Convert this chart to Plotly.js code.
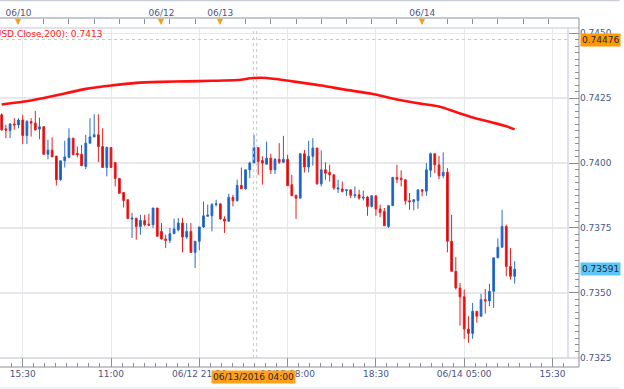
<!DOCTYPE html>
<html>
<head>
<meta charset="utf-8">
<script src="https://cdn.plot.ly/plotly-3.0.1.min.js"></script>
<style>html,body{margin:0;padding:0;background:#fff;}#chart{width:624px;height:389px;}</style>
</head>
<body>
<div id="chart"></div>
<script>
// 30-minute AUD/USD candles, first visible bar index = -4 (06/10 00:00 = index 0)
const firstBar = -4;
const open = [0.74186,0.74132,0.74126,0.74151,0.74147,0.74166,0.74106,0.74160,0.74154,0.74131,
0.74140,0.74034,0.74050,0.74027,0.73936,0.74009,0.74022,0.74096,0.74038,0.74034,
0.73987,0.74077,0.74101,0.74109,0.74064,0.73983,0.74060,0.74002,0.73941,0.73887,
0.73859,0.73784,0.73788,0.73756,0.73779,0.73765,0.73763,0.73827,0.73737,0.73708,
0.73702,0.73728,0.73743,0.73769,0.73715,0.73737,0.73656,0.73699,0.73754,0.73795,
0.73797,0.73840,0.73843,0.73785,0.73776,0.73868,0.73855,0.73914,0.73901,0.73974,
0.74000,0.74060,0.74010,0.73996,0.74019,0.73974,0.74015,0.74003,0.74015,0.73917,
0.73876,0.73865,0.74036,0.73985,0.74026,0.74058,0.73920,0.73974,0.73964,0.73955,
0.73900,0.73900,0.73894,0.73897,0.73874,0.73878,0.73865,0.73869,0.73833,0.73874,
0.73823,0.73814,0.73756,0.73836,0.73945,0.73942,0.73936,0.73855,0.73851,0.73856,
0.73897,0.73892,0.73972,0.74036,0.73993,0.73951,0.73965,0.73699,0.73583,0.73519,
0.73485,0.73361,0.73344,0.73429,0.73410,0.73474,0.73469,0.73506,0.73635,0.73676,
0.73756,0.73602,0.73564];
const high = [0.74192,0.74147,0.74154,0.74173,0.74173,0.74186,0.74166,0.74173,0.74201,0.74175,
0.74142,0.74090,0.74099,0.74027,0.74009,0.74086,0.74134,0.74096,0.74064,0.74070,
0.74109,0.74173,0.74188,0.74188,0.74134,0.74064,0.74060,0.74002,0.73941,0.73887,
0.73859,0.73808,0.73788,0.73801,0.73801,0.73805,0.73827,0.73827,0.73769,0.73724,
0.73750,0.73786,0.73788,0.73788,0.73769,0.73769,0.73699,0.73754,0.73852,0.73840,
0.73846,0.73859,0.73843,0.73795,0.73882,0.73878,0.73936,0.73983,0.73974,0.74006,
0.74109,0.74060,0.74026,0.74083,0.74036,0.74019,0.74077,0.74105,0.74032,0.73955,
0.73878,0.74036,0.74051,0.74086,0.74096,0.74058,0.74049,0.74003,0.73994,0.73955,
0.73936,0.73929,0.73897,0.73897,0.73910,0.73897,0.73894,0.73874,0.73874,0.73874,
0.73840,0.73827,0.73838,0.73945,0.73994,0.73972,0.73936,0.73885,0.73859,0.73897,
0.73900,0.74000,0.74041,0.74038,0.74028,0.74041,0.73981,0.73801,0.73638,0.73538,
0.73513,0.73410,0.73461,0.73429,0.73497,0.73515,0.73535,0.73635,0.73710,0.73820,
0.73763,0.73673,0.73622];
const low = [0.74125,0.74096,0.74096,0.74128,0.74134,0.74073,0.74073,0.74102,0.74126,0.74092,
0.74032,0.74015,0.74024,0.73914,0.73932,0.73983,0.74019,0.74032,0.74022,0.73990,
0.73977,0.74073,0.74101,0.74004,0.73983,0.73949,0.73981,0.73910,0.73881,0.73829,
0.73786,0.73711,0.73705,0.73724,0.73756,0.73759,0.73750,0.73718,0.73705,0.73673,
0.73692,0.73728,0.73737,0.73656,0.73708,0.73656,0.73596,0.73664,0.73750,0.73795,
0.73737,0.73833,0.73782,0.73731,0.73776,0.73833,0.73852,0.73901,0.73897,0.73942,
0.74000,0.73955,0.73917,0.73994,0.73958,0.73958,0.73997,0.74003,0.73913,0.73874,
0.73785,0.73865,0.73964,0.73964,0.73990,0.73917,0.73910,0.73936,0.73929,0.73897,
0.73885,0.73887,0.73874,0.73865,0.73865,0.73859,0.73856,0.73797,0.73829,0.73797,
0.73792,0.73759,0.73750,0.73836,0.73923,0.73910,0.73840,0.73820,0.73818,0.73824,
0.73872,0.73874,0.73946,0.73961,0.73938,0.73942,0.73656,0.73583,0.73513,0.73374,
0.73323,0.73308,0.73323,0.73385,0.73410,0.73420,0.73449,0.73442,0.73635,0.73676,
0.73564,0.73551,0.73536];
const close = [0.74128,0.74127,0.74151,0.74147,0.74166,0.74106,0.74160,0.74154,0.74128,0.74140,
0.74034,0.74050,0.74024,0.73936,0.74009,0.74024,0.74096,0.74032,0.74032,0.73990,
0.74077,0.74101,0.74109,0.74064,0.73983,0.74060,0.73983,0.73941,0.73884,0.73856,
0.73786,0.73788,0.73756,0.73779,0.73763,0.73761,0.73827,0.73718,0.73708,0.73702,
0.73728,0.73746,0.73769,0.73715,0.73737,0.73656,0.73699,0.73754,0.73797,0.73800,
0.73840,0.73843,0.73785,0.73776,0.73868,0.73855,0.73914,0.73901,0.73974,0.74000,
0.74060,0.74006,0.74000,0.74019,0.73974,0.74015,0.74003,0.74015,0.73913,0.73874,
0.73865,0.74036,0.73985,0.74026,0.74058,0.73920,0.73974,0.73961,0.73955,0.73904,
0.73904,0.73891,0.73897,0.73876,0.73878,0.73865,0.73869,0.73833,0.73874,0.73823,
0.73810,0.73759,0.73836,0.73945,0.73938,0.73936,0.73855,0.73851,0.73859,0.73897,
0.73892,0.73974,0.74036,0.73993,0.73951,0.73965,0.73699,0.73583,0.73519,0.73485,
0.73361,0.73344,0.73429,0.73410,0.73474,0.73469,0.73506,0.73635,0.73676,0.73756,
0.73602,0.73564,0.73591];

// SMA(200) read at selected bars
const smaBar = [-4,1,6,11,16,22,28,34,40,46,52,56,59,62,66,72,78,84,90,96,100,104,108,112,116,118];
const smaVal = [0.74226,0.74236,0.74251,0.74268,0.74286,0.74299,0.74309,0.74313,0.74315,0.74317,
0.74320,0.74328,0.74328,0.74322,0.74313,0.74299,0.74282,0.74267,0.74245,0.74228,
0.74218,0.74197,0.74176,0.74159,0.74142,0.74130];
const smaLabel = 'SMA(AUDUSD.Close,200): 0.7413';

const timeTickBars = [1,22,43,64,85,106,127];
const timeTickText = ['15:30','11:00','06/12 21:30','06/13 08:00','18:30','06/14 05:00','15:30'];
const dateTickBars = [0,34,48,96];
const dateTickText = ['06/10','06/12','06/13','06/14'];
const priceTicks = [0.7325,0.7350,0.7375,0.7400,0.7425,0.7450];
const cursorBar = 56;
const cursorLabel = '06/13/2016 04:00';
const cursorPrice = 0.74476;
const lastPrice = close[close.length-1];

const bars = open.map((_, i) => i + firstBar);
const xRange = [-4.40, 130.68];
const yRange = [0.732492, 0.745204];
const yDom = [0.0258, 0.9713];
const xDom = [0, 0.981];
const axisColor = '#8a8f99';
const gridColor = '#e8e8ec';

const traces = [
  {type:'candlestick', x:bars, open:open, high:high, low:low, close:close,
   xaxis:'x', yaxis:'y', whiskerwidth:0, hoverinfo:'skip',
   increasing:{line:{color:'#2a6cc8', width:1}, fillcolor:'#0b5bc4'},
   decreasing:{line:{color:'#e82020', width:1}, fillcolor:'#e00000'}},
  {type:'scatter', mode:'lines', x:smaBar, y:smaVal, xaxis:'x2', yaxis:'y',
   line:{color:'#ff1010', width:2.6, shape:'spline', smoothing:0.8}, hoverinfo:'skip'}
];

const tickFont = {family:'DejaVu Sans', size:9, color:'#4a5785'};

const layout = {
  width:624, height:389,
  margin:{l:0, r:45, t:18, b:22},
  paper_bgcolor:'#ffffff', plot_bgcolor:'#ffffff',
  showlegend:false,
  boxgap:0.4,
  font:tickFont,
  xaxis:{domain:xDom, range:xRange, anchor:'free', position:0, fixedrange:true,
    rangeslider:{visible:false},
    tickmode:'array', tickvals:timeTickBars, ticktext:timeTickText, tickfont:tickFont,
    ticks:'inside', ticklen:9, tickcolor:axisColor, tickwidth:1,
    showline:false, zeroline:false, showgrid:true, gridcolor:gridColor, gridwidth:1,
    minor:{tickmode:'linear', tick0:1, dtick:2.625, ticks:'inside', ticklen:4, tickcolor:axisColor, showgrid:false}},
  xaxis2:{overlaying:'x', side:'top', anchor:'free', position:1, range:xRange, fixedrange:true,
    tickmode:'array', tickvals:dateTickBars, ticktext:dateTickText, tickfont:tickFont,
    ticks:'inside', ticklen:5, tickcolor:axisColor,
    showline:false, zeroline:false, showgrid:false,
    minor:{tickmode:'linear', tick0:0, dtick:6, ticks:'inside', ticklen:5, tickcolor:axisColor, showgrid:false}},
  yaxis:{domain:yDom, range:yRange, anchor:'free', position:1, side:'right', fixedrange:true,
    tickmode:'array', tickvals:priceTicks, tickformat:'.4f', tickfont:tickFont,
    ticks:'inside', ticklen:10, tickcolor:axisColor,
    showline:false, zeroline:false, showgrid:true, gridcolor:gridColor, gridwidth:1.5,
    minor:{tickmode:'linear', tick0:0.7325, dtick:0.00025, ticks:'inside', ticklen:4, tickcolor:axisColor, showgrid:false}},
  shapes:[
    // plot frame
    {type:'line', xref:'paper', yref:'paper', x0:0, x1:1, y0:yDom[1], y1:yDom[1], line:{color:'#d5d9e2', width:1.5}},
    {type:'line', xref:'paper', yref:'paper', x0:0, x1:1, y0:yDom[0], y1:yDom[0], line:{color:'#b9bec8', width:1}},
    {type:'line', xref:'paper', yref:'paper', x0:xDom[1], x1:xDom[1], y0:yDom[0], y1:yDom[1], line:{color:'#d5d9e2', width:1.5}},
    // axis baselines
    {type:'line', xref:'paper', yref:'paper', x0:0, x1:1, y0:0, y1:0, line:{color:axisColor, width:1}},
    {type:'line', xref:'paper', yref:'paper', x0:0, x1:1, y0:1, y1:1, line:{color:axisColor, width:1}},
    {type:'line', xref:'paper', yref:'paper', x0:1, x1:1, y0:0, y1:1, line:{color:axisColor, width:1}},
    // crosshair
    {type:'line', xref:'paper', yref:'y', x0:0, x1:xDom[1], y0:cursorPrice, y1:cursorPrice, line:{color:'#c8c8c8', width:1, dash:'dot'}},
    {type:'line', xref:'x', yref:'paper', x0:cursorBar-0.15, x1:cursorBar-0.15, y0:yDom[0], y1:yDom[1], line:{color:'#c8c8c8', width:1, dash:'dot'}},
    {type:'line', xref:'x', yref:'paper', x0:cursorBar+0.65, x1:cursorBar+0.65, y0:yDom[0], y1:yDom[1], line:{color:'#c8c8c8', width:1, dash:'dot'}},
    // outer border
    {type:'line', xref:'paper', yref:'paper', x0:0, x1:1.07, y0:1.050, y1:1.050, line:{color:'#c9cdd6', width:1.5}},
    {type:'line', xref:'paper', yref:'paper', x0:0, x1:1.07, y0:-0.060, y1:-0.060, line:{color:'#e2e4ea', width:1}}
  ],
  annotations:[
    {xref:'paper', yref:'paper', x:0.1796, y:0.9542, xanchor:'right', yanchor:'middle', showarrow:false,
     text:smaLabel, font:{family:'DejaVu Sans', size:9, color:'#ff2020'}},
    {xref:'x', yref:'paper', x:cursorBar, y:-0.030, xanchor:'center', yanchor:'middle', showarrow:false,
     text:cursorLabel, bgcolor:'#ffa11a', borderpad:1, font:{family:'DejaVu Sans', size:9, color:'#1e2540'}},
    {xref:'paper', yref:'y', x:1.002, y:cursorPrice, xanchor:'left', yanchor:'middle', showarrow:false,
     text:cursorPrice.toFixed(5), bgcolor:'#ff9a00', borderpad:1, font:{family:'DejaVu Sans', size:9, color:'#1e2540'}},
    {xref:'paper', yref:'y', x:1.002, y:lastPrice, xanchor:'left', yanchor:'middle', showarrow:false,
     text:lastPrice.toFixed(5), bgcolor:'#5ec6f4', borderpad:1, font:{family:'DejaVu Sans', size:9, color:'#1e2540'}}
  ].concat(dateTickBars.map(b => ({xref:'x', yref:'paper', x:b, y:0.990, xanchor:'center', yanchor:'middle',
     showarrow:false, text:'▼', font:{family:'DejaVu Sans', size:8, color:'#f5a012'}})))
};

Plotly.newPlot('chart', traces, layout, {staticPlot:true, displayModeBar:false});
</script>
</body>
</html>
